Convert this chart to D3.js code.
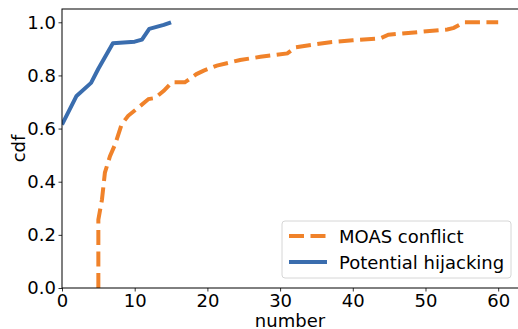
<!DOCTYPE html>
<html>
<head>
<meta charset="utf-8">
<script src="https://cdn.jsdelivr.net/npm/d3@7"></script>
<style>
  body { margin: 0; background: #fff; }
  text { font-family: "DejaVu Sans", sans-serif; }
</style>
</head>
<body>
<div id="chart"></div>
<script>
// data
var moasX = [5, 5, 5.5, 5.9, 6.6, 7.3, 8.2, 9.1, 10.5, 11.9, 12.8, 14, 15.1, 16.9, 18.5, 19.5, 21.3, 24.5, 27.3, 31, 32.1, 36.9, 40, 43.8, 44.9, 53, 53.9, 55.3, 60];
var moasY = [0, 0.257, 0.333, 0.434, 0.496, 0.54, 0.616, 0.648, 0.679, 0.711, 0.715, 0.742, 0.774, 0.774, 0.805, 0.818, 0.837, 0.858, 0.87, 0.883, 0.906, 0.925, 0.932, 0.94, 0.953, 0.973, 0.979, 1.0, 1.0];
var hijackX = [0, 2, 4, 5, 7, 10, 11, 12, 14, 15];
var hijackY = [0.615, 0.723, 0.772, 0.825, 0.921, 0.927, 0.935, 0.975, 0.99, 1.0];
var xTicks = [0, 10, 20, 30, 40, 50, 60];
var yTicks = [0, 0.2, 0.4, 0.6, 0.8, 1.0];
var seriesNames = ["MOAS conflict", "Potential hijacking"];
var colors = ["#f0822a", "#3a6dae"];

var W = 518, H = 329;
var margin = { top: 9, right: -2, bottom: 41, left: 62 };
var width = W - margin.left - margin.right,
    height = H - margin.top - margin.bottom;
var fs = 18;

var svg = d3.select("#chart").append("svg")
    .attr("width", W).attr("height", H);
var g = svg.append("g")
    .attr("transform", "translate(" + margin.left + "," + margin.top + ")");

var x = d3.scaleLinear().domain([0, 63]).range([0, width]);
var y = d3.scaleLinear().domain([0, 1.05]).range([height, 0]);

// clip
g.append("clipPath").attr("id", "clip")
    .append("rect").attr("width", width).attr("height", height);

var line = d3.line()
    .x(function(d) { return x(d[0]); })
    .y(function(d) { return y(d[1]); });

var moas = moasX.map(function(v, i) { return [v, moasY[i]]; });
var hijack = hijackX.map(function(v, i) { return [v, hijackY[i]]; });

var plot = g.append("g").attr("clip-path", "url(#clip)");
plot.append("path").datum(moas)
    .attr("d", line)
    .attr("fill", "none")
    .attr("stroke", colors[0])
    .attr("stroke-width", 4)
    .attr("stroke-dasharray", "15,6.5");
plot.append("path").datum(hijack)
    .attr("d", line)
    .attr("fill", "none")
    .attr("stroke", colors[1])
    .attr("stroke-width", 4)
    .attr("stroke-linejoin", "round");

// axes
var xAxis = g.append("g")
    .attr("transform", "translate(0," + height + ")")
    .call(d3.axisBottom(x).tickValues(xTicks).tickSize(3.5).tickPadding(2.5).tickFormat(d3.format("d")));
var yAxis = g.append("g")
    .call(d3.axisLeft(y).tickValues(yTicks).tickSize(3.5).tickPadding(2.5).tickFormat(d3.format(".1f")));

[xAxis, yAxis].forEach(function(a) {
    a.select(".domain").remove();
    a.selectAll("line").attr("stroke", "#000").attr("stroke-width", 0.8);
    a.selectAll("text").attr("font-size", fs).attr("fill", "#000")
        .style("font-family", "DejaVu Sans, sans-serif");
});

// spines
g.append("rect")
    .attr("width", width).attr("height", height)
    .attr("fill", "none").attr("stroke", "#000").attr("stroke-width", 1);

// axis labels
g.append("text")
    .attr("x", width / 2 - 1).attr("y", height + 38.5)
    .attr("text-anchor", "middle").attr("font-size", fs)
    .text("number");
g.append("text")
    .attr("transform", "translate(" + (-37) + "," + (height / 2) + ") rotate(-90)")
    .attr("text-anchor", "middle").attr("font-size", fs)
    .text("cdf");

// legend
var lg = svg.append("g").attr("transform", "translate(282,221)");
lg.append("rect")
    .attr("width", 229).attr("height", 57)
    .attr("rx", 3)
    .attr("fill", "#fff").attr("fill-opacity", 0.8)
    .attr("stroke", "#d6d6d6");
var items = lg.selectAll(".item").data(seriesNames).enter().append("g")
    .attr("transform", function(d, i) { return "translate(0," + (15 + i * 26) + ")"; });
items.append("line")
    .attr("x1", 7).attr("x2", 45)
    .attr("stroke", function(d, i) { return colors[i]; })
    .attr("stroke-width", 4)
    .attr("stroke-dasharray", function(d, i) { return i === 0 ? "15,6.5" : null; });
items.append("text")
    .attr("x", 57).attr("y", 6.5)
    .attr("font-size", fs)
    .text(function(d) { return d; });
</script>
</body>
</html>
